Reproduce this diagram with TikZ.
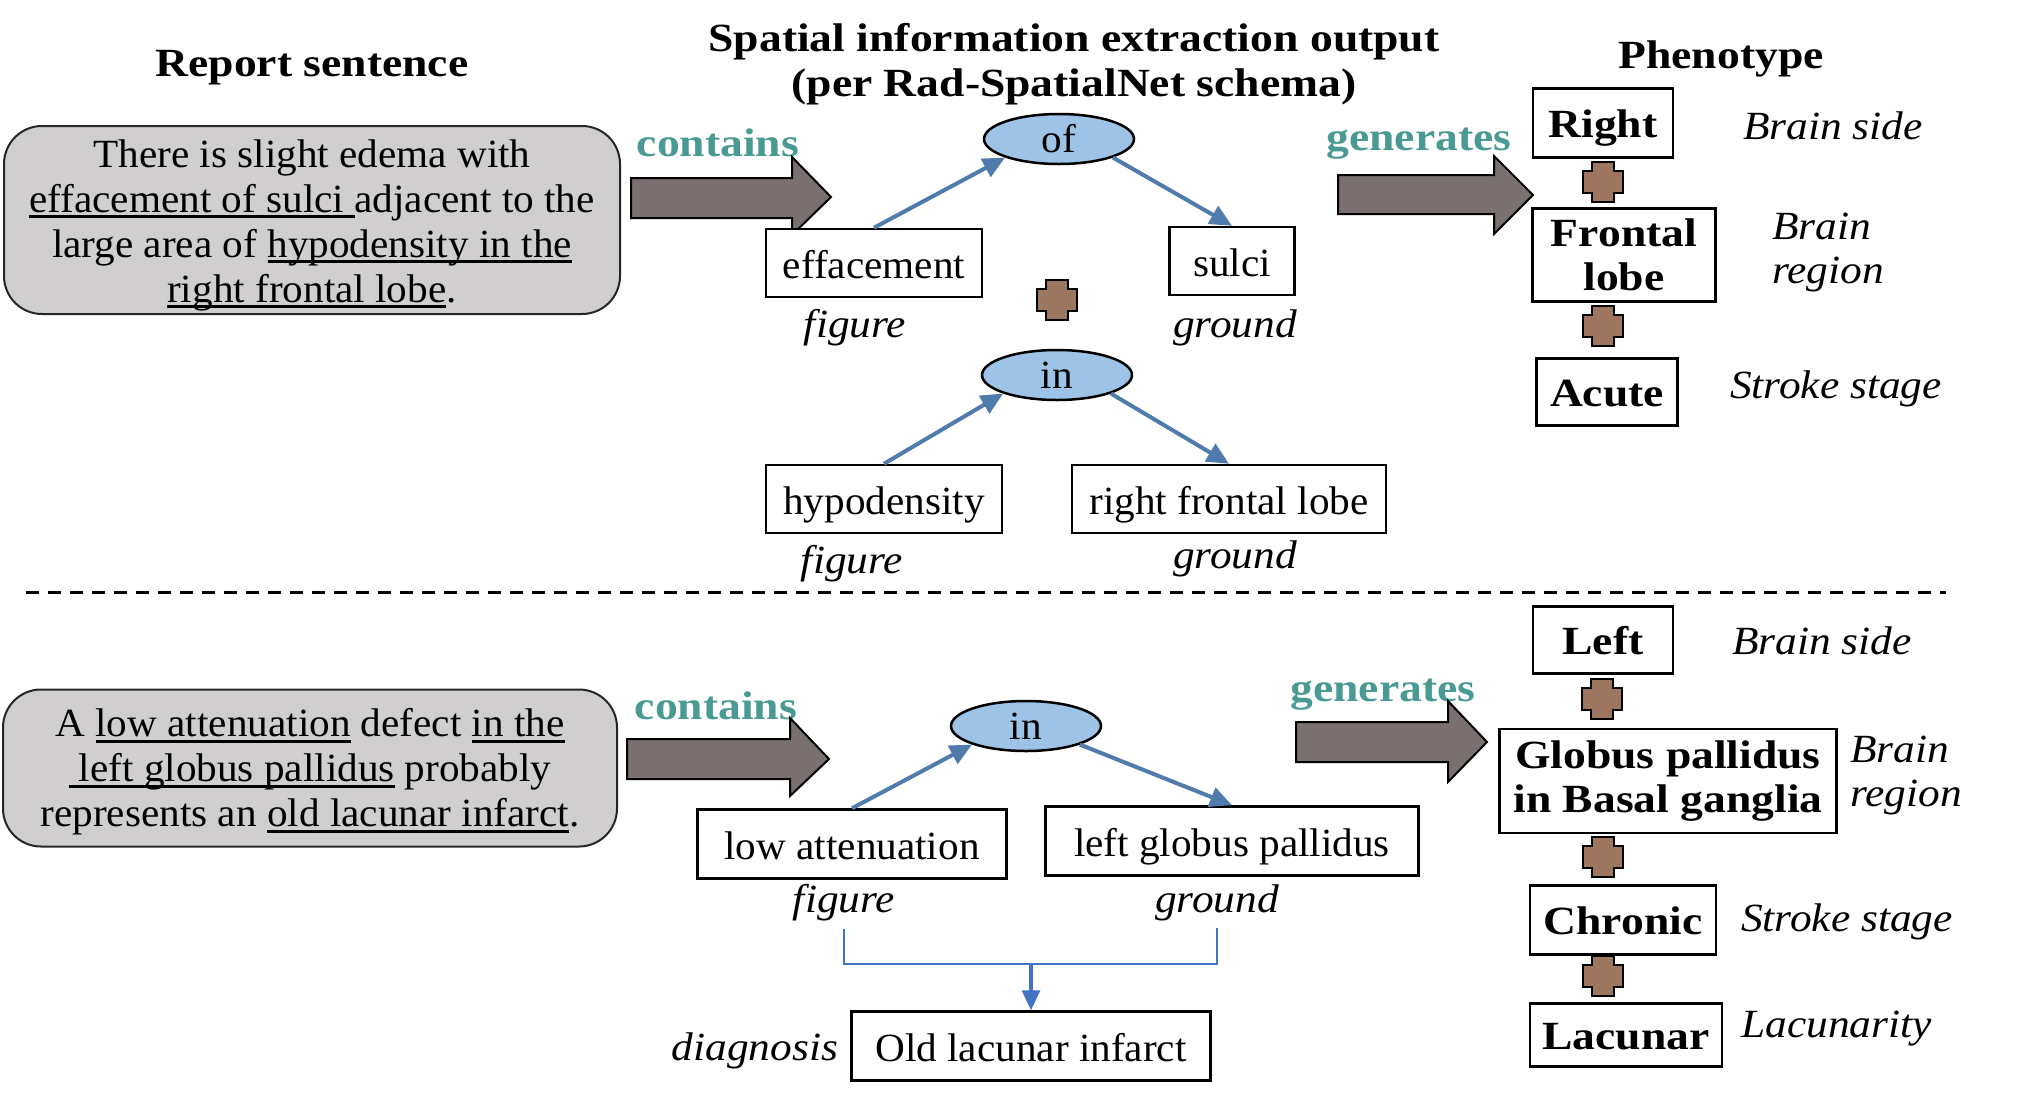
\documentclass[tikz,border=0pt]{standalone}
\usepackage{fontspec}
\setmainfont{Liberation Serif}[UprightFeatures={FakeStretch=1.03},BoldFeatures={FakeStretch=1.14},ItalicFeatures={FakeStretch=1.085}]
\usetikzlibrary{shapes.geometric,arrows.meta}
\newsavebox\myulbox
\newcommand\myul[1]{\sbox\myulbox{#1}\rlap{\rule[-6pt]{\wd\myulbox}{2.6pt}}\usebox\myulbox}
\definecolor{boxgray}{RGB}{208,206,206}
\definecolor{tealtxt}{RGB}{74,154,148}
\definecolor{arrowgray}{RGB}{122,112,111}
\definecolor{ellblue}{RGB}{157,195,230}
\definecolor{linkblue}{RGB}{79,124,172}
\definecolor{brkblue}{RGB}{68,114,196}
\definecolor{crossbrown}{RGB}{157,118,96}
\newcommand\bodyfont{\fontsize{40}{45}\selectfont}
\tikzset{
  box/.style={draw, line width=2.5pt, fill=white, inner sep=0pt, text height=34pt, text depth=4pt, font=\bodyfont},
  bbox/.style={draw, line width=2.5pt, fill=white, inner sep=0pt, text height=33pt, text depth=5pt, font=\bodyfont\bfseries},
  bbox2/.style={draw, line width=2.5pt, fill=white, inner sep=0pt, align=center, font=\bfseries\fontsize{40}{44}\selectfont},
  ell/.style={ellipse, draw, line width=2.5pt, fill=ellblue, minimum width=150pt, minimum height=50pt, inner sep=0pt, font=\bodyfont},
  link/.style={draw=linkblue, line width=4pt, -{Triangle[length=22pt,width=20pt]}},
  lbl/.style={inner sep=0pt, font=\bodyfont\itshape},
  rel/.style={inner sep=0pt, text=tealtxt, font=\bodyfont\bfseries},
  ttl/.style={inner sep=0pt, font=\bodyfont\bfseries, align=center},
  sent/.style={draw=black!85, line width=2pt, fill=boxgray, rounded corners=38pt, inner sep=0pt},
  senttext/.style={inner sep=0pt, align=center, font=\bodyfont},
  bigarrow/.style={draw=black, line width=2pt, fill=arrowgray},
  bracket/.style={draw=brkblue, line width=1.8pt},
  brkarrow/.style={draw=brkblue, line width=3.2pt, -{Triangle[length=20pt,width=18pt]}},
  sepline/.style={draw=black, line width=3pt, dash pattern=on 13pt off 9pt},
  pluspic/.pic={\draw[line width=2pt, fill=crossbrown] (-20,-11) -- (-11,-11) -- (-11,-20) -- (11,-20) -- (11,-11) -- (20,-11) -- (20,11) -- (11,11) -- (11,20) -- (-11,20) -- (-11,11) -- (-20,11) -- cycle;}
}
\begin{document}
\begin{tikzpicture}[x=1pt,y=-1pt]
\fill[white] (0,0) rectangle (2037,1093);
\useasboundingbox (0,0) rectangle (2037,1093);

% titles
\node[ttl] (t1) at (312,68) {Report sentence};
\node[ttl] (t2) at (1074,64) {Spatial information extraction output\\(per Rad-SpatialNet schema)};
\node[ttl] (t3) at (1721,59) {Phenotype};

% ---------- top part ----------
\node[sent, minimum width=616pt, minimum height=188pt] (s1) at (312,220) {};
\node[senttext] (s1t) at ([yshift=-5pt]s1.center)
  {There is slight edema with\\
   \myul{effacement of sulci\ }adjacent to the\\
   large area of \myul{hypodensity in the}\\
   \myul{right frontal lobe}.};

\node[rel] (c1) at (718,143) {contains};
\draw[bigarrow] (631,178) -- (792,178) -- (792,157) -- (831,197) -- (792,235) -- (792,218) -- (631,218) -- cycle;

\node[ell] (of) at (1059,139) {of};
\node[box, minimum width=216pt, minimum height=68pt] (eff) at (874,263) {effacement};
\node[box, minimum width=125pt, minimum height=68pt] (sul) at (1232,261) {sulci};
\node[lbl] (fig1) at (855,328) {figure};
\node[lbl] (gnd1) at (1235,328) {ground};
\draw[link] (eff.north) -- (of.south west);
\draw[link] (of.south east) -- (sul.north);
\pic at (1057,300) {pluspic};

\node[ell] (in1) at (1057,375) {in};
\node[box, minimum width=236pt, minimum height=68pt] (hyp) at (884,499) {hypodensity};
\node[box, minimum width=314pt, minimum height=68pt] (rfl) at (1229,499) {right frontal lobe};
\node[lbl] (fig2) at (852,564) {figure};
\node[lbl] (gnd2) at (1235,559) {ground};
\draw[link] (hyp.north) -- (in1.south west);
\draw[link] (in1.south east) -- (rfl.north);

\node[rel] (g1) at (1419,144) {generates};
\draw[bigarrow] (1338,175) -- (1494,175) -- (1494,156) -- (1533,195) -- (1494,234) -- (1494,214) -- (1338,214) -- cycle;

\node[bbox, minimum width=140pt, minimum height=69pt] (right) at (1603,123) {Right};
\pic at (1603,182) {pluspic};
\node[bbox2, minimum width=183pt, minimum height=93pt] (front) at (1624,255) {Frontal\\lobe};
\pic at (1603,326) {pluspic};
\node[bbox, minimum width=141pt, minimum height=67pt] (acute) at (1607,392) {Acute};
\node[lbl, anchor=west] (bs1) at (1743,126) {Brain side};
\node[lbl, anchor=west, align=left, font=\itshape\fontsize{40}{44}\selectfont] (br1) at (1772,253) {Brain\\region};
\node[lbl, anchor=west] (ss1) at (1730,389) {Stroke stage};

% separator
\coordinate (dl) at (26,592);
\coordinate (dr) at (1946,592);
\draw[sepline] (dl) -- (dr);

% ---------- bottom part ----------
\node[sent, minimum width=614pt, minimum height=157pt] (s2) at (310,768) {};
\node[senttext] (s2t) at ([yshift=-4pt]s2.center)
  {A \myul{low attenuation} defect \myul{in the}\\
   \myul{\ left globus pallidus} probably\\
   represents an \myul{old lacunar infarct}.};

\node[rel] (c2) at (716,706) {contains};
\draw[bigarrow] (627,739) -- (790,739) -- (790,718) -- (829,759) -- (790,796) -- (790,779) -- (627,779) -- cycle;

\node[ell] (in2) at (1026,726) {in};
\node[box, minimum width=309pt, minimum height=69pt] (low) at (852,844) {low attenuation};
\node[box, minimum width=373pt, minimum height=69pt] (lgp) at (1232,841) {left globus pallidus};
\node[lbl] (fig3) at (844,903) {figure};
\node[lbl] (gnd3) at (1217,903) {ground};
\draw[link] (low.north) -- (in2.south west);
\draw[link] (in2.south east) -- (lgp.north);

\coordinate (brk) at (1031,964);
\node[box, minimum width=359pt, minimum height=69pt] (old) at (1031,1046) {Old lacunar infarct};
\node[lbl] (diag) at (755,1051) {diagnosis};
\draw[bracket] ([yshift=-7pt]fig3.south) |- (brk) -| ([yshift=-7pt]gnd3.south);
\draw[brkarrow] (brk) -- (old.north);

\node[rel] (g2) at (1383,695) {generates};
\draw[bigarrow] (1296,722) -- (1448,722) -- (1448,701) -- (1487,742) -- (1448,782) -- (1448,762) -- (1296,762) -- cycle;

\node[bbox, minimum width=140pt, minimum height=67pt] (left) at (1603,640) {Left};
\pic at (1602,699) {pluspic};
\node[bbox2, minimum width=337pt, minimum height=104pt] (glob) at (1668,781) {Globus pallidus\\in Basal ganglia};
\pic at (1603,857) {pluspic};
\node[bbox, minimum width=186pt, minimum height=69pt] (chron) at (1623,920) {Chronic};
\pic at (1603,976) {pluspic};
\node[bbox, minimum width=192pt, minimum height=63pt] (lac) at (1626,1035) {Lacunar};
\node[lbl, anchor=west] (bs2) at (1732,641) {Brain side};
\node[lbl, anchor=west, align=left, font=\itshape\fontsize{40}{44}\selectfont] (br2) at (1850,776) {Brain\\region};
\node[lbl, anchor=west] (ss2) at (1741,922) {Stroke stage};
\node[lbl, anchor=west] (lacy) at (1741,1029) {Lacunarity};
\end{tikzpicture}
\end{document}
